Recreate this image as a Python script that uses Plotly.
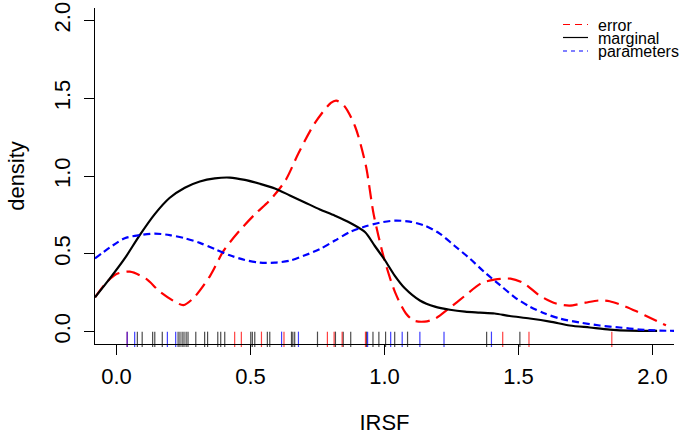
import plotly.graph_objects as go

# ---- density curves ----
err_x = [-0.08, -0.04, 0.00, 0.05, 0.11, 0.16, 0.22, 0.25, 0.29, 0.35, 0.40, 0.46, 0.52, 0.57,
         0.63, 0.68, 0.74, 0.80, 0.82, 0.85, 0.89, 0.93, 0.96, 1.00, 1.04, 1.08, 1.11, 1.15,
         1.19, 1.24, 1.30, 1.36, 1.41, 1.47, 1.52, 1.58, 1.64, 1.69, 1.75, 1.80, 1.84, 1.90,
         1.94, 2.00, 2.05]
err_y = [0.22, 0.31, 0.37, 0.385, 0.34, 0.26, 0.19, 0.17, 0.22, 0.36, 0.52, 0.65, 0.76, 0.84,
         0.97, 1.15, 1.34, 1.47, 1.485, 1.45, 1.32, 1.07, 0.75, 0.46, 0.25, 0.116, 0.07, 0.064,
         0.084, 0.148, 0.23, 0.31, 0.334, 0.34, 0.31, 0.23, 0.18, 0.167, 0.186, 0.20, 0.195, 0.16,
         0.13, 0.08, 0.04]

mar_x = [-0.08, -0.025, 0.031, 0.087, 0.143, 0.199, 0.255, 0.311, 0.367, 0.423, 0.479, 0.535,
         0.591, 0.647, 0.703, 0.759, 0.815, 0.871, 0.927, 0.964, 1.001, 1.038, 1.075, 1.132,
         1.188, 1.244, 1.300, 1.356, 1.411, 1.467, 1.542, 1.617, 1.691, 1.766, 1.841, 1.915, 2.017]
mar_y = [0.22, 0.34, 0.47, 0.62, 0.755, 0.86, 0.925, 0.965, 0.985, 0.99, 0.975, 0.95, 0.92, 0.875,
         0.83, 0.785, 0.745, 0.70, 0.64, 0.55, 0.46, 0.36, 0.28, 0.20, 0.16, 0.14, 0.128, 0.122,
         0.116, 0.10, 0.084, 0.064, 0.039, 0.026, 0.013, 0.006, 0.004]

par_x = [-0.08, -0.025, 0.031, 0.087, 0.143, 0.199, 0.255, 0.311, 0.367, 0.423, 0.479, 0.535,
         0.591, 0.647, 0.703, 0.759, 0.815, 0.871, 0.927, 0.982, 1.038, 1.094, 1.151, 1.206,
         1.262, 1.318, 1.374, 1.430, 1.486, 1.542, 1.598, 1.654, 1.729, 1.803, 1.878, 1.952,
         2.027, 2.083]
par_y = [0.47, 0.54, 0.60, 0.62, 0.63, 0.62, 0.60, 0.57, 0.53, 0.49, 0.46, 0.443, 0.443, 0.456,
         0.49, 0.53, 0.585, 0.64, 0.675, 0.70, 0.713, 0.707, 0.68, 0.63, 0.55, 0.47, 0.38, 0.30,
         0.22, 0.16, 0.116, 0.084, 0.058, 0.039, 0.026, 0.013, 0.006, 0.005]

# ---- rug values ----
rug_marginal = [0.078, 0.096, 0.135, 0.143, 0.171, 0.230, 0.237, 0.245, 0.252, 0.260, 0.267,
                0.296, 0.329, 0.340, 0.378, 0.389, 0.404, 0.501, 0.507, 0.516, 0.563, 0.572,
                0.653, 0.658, 0.665, 0.750, 0.817, 0.846, 0.874, 0.933, 0.957, 0.979, 1.004,
                1.038, 1.086, 1.381, 1.505]
rug_error = [0.040, 0.441, 0.466, 0.541, 0.625, 0.787, 0.812, 0.842, 0.929, 1.441, 1.539, 1.848]
rug_param = [0.040, 0.068, 0.190, 0.221, 0.616, 0.679, 0.937, 1.023, 1.066, 1.132, 1.222, 1.399]

x_ticks = [0.0, 0.5, 1.0, 1.5, 2.0]
y_ticks = [0.0, 0.5, 1.0, 1.5, 2.0]
x_range = [-0.08, 2.08]
y_range = [-0.08, 2.08]

RED, BLK, BLU = "#FF0000", "#000000", "#0000FF"
FONT = "Liberation Sans, Arial, sans-serif"

fig = go.Figure()
fig.add_trace(go.Scatter(x=err_x, y=err_y, mode="lines", line=dict(color=RED, width=2.2, dash="14px,7px", shape="spline", smoothing=0.8)))
fig.add_trace(go.Scatter(x=mar_x, y=mar_y, mode="lines", line=dict(color=BLK, width=2.2, shape="spline", smoothing=0.8)))
fig.add_trace(go.Scatter(x=par_x, y=par_y, mode="lines", line=dict(color=BLU, width=2.2, dash="7px,4px", shape="spline", smoothing=0.8)))

rug_y = -0.05
for vals, col in [(rug_marginal, "rgba(0,0,0,0.7)"), (rug_error, "rgba(255,0,0,0.75)"), (rug_param, "rgba(0,0,255,0.75)")]:
    fig.add_trace(go.Scatter(x=vals, y=[rug_y] * len(vals), mode="markers", cliponaxis=False,
                             marker=dict(symbol="line-ns", size=11, line=dict(color=col, width=1.2))))

W, H = 692, 435
L, T = 95, 8
PR, PB = 674, 344          # plot right / bottom in page pixels
R_, B = W - PR, H - PB
pw, ph = PR - L, PB - T
def px(x): return (x - L) / pw
def py(y): return (PB - y) / ph

leg = [("error", RED, "7px,5px", 24.5), ("marginal", BLK, "solid", 37.5), ("parameters", BLU, "4px,4px", 51)]
for name, col, dash, yy in leg:
    fig.add_shape(type="line", xref="paper", yref="paper", x0=px(563), x1=px(588), y0=py(yy), y1=py(yy),
                  line=dict(color=col, width=1.2, dash=dash))
    fig.add_annotation(xref="paper", yref="paper", x=px(597), y=py(yy + 0.5), text=name, showarrow=False,
                       xanchor="left", yanchor="middle", borderpad=0,
                       font=dict(family=FONT, size=16, color="black"))

fig.update_layout(
    width=W, height=H, margin=dict(l=L, r=R_, t=T, b=B, autoexpand=False),
    paper_bgcolor="white", plot_bgcolor="white", showlegend=False,
    font=dict(family=FONT, size=22, color="black"),
)
fig.update_xaxes(range=x_range, tickvals=x_ticks, ticktext=[f"{v:.1f}" for v in x_ticks],
                 showgrid=False, zeroline=False, showline=True, linecolor="black", linewidth=1,
                 ticks="outside", ticklen=10, tickcolor="black", tickfont=dict(size=22), automargin=False,
                 ticklabelstandoff=3, ticklabeloverflow="allow",
                 title=dict(text="IRSF", font=dict(size=22), standoff=26))
fig.update_yaxes(range=y_range, tickvals=y_ticks, ticktext=[f"{v:.1f}" for v in y_ticks],
                 showgrid=False, zeroline=False, showline=True, linecolor="black", linewidth=1,
                 ticks="outside", ticklen=10, tickcolor="black", tickfont=dict(size=22), tickangle=-90,
                 automargin=False, ticklabelstandoff=5, ticklabeloverflow="allow",
                 title=dict(text="density", font=dict(size=22), standoff=19))

fig.write_html("out.html", config={"displayModeBar": False},
               post_script="document.body.style.margin='0px';")
